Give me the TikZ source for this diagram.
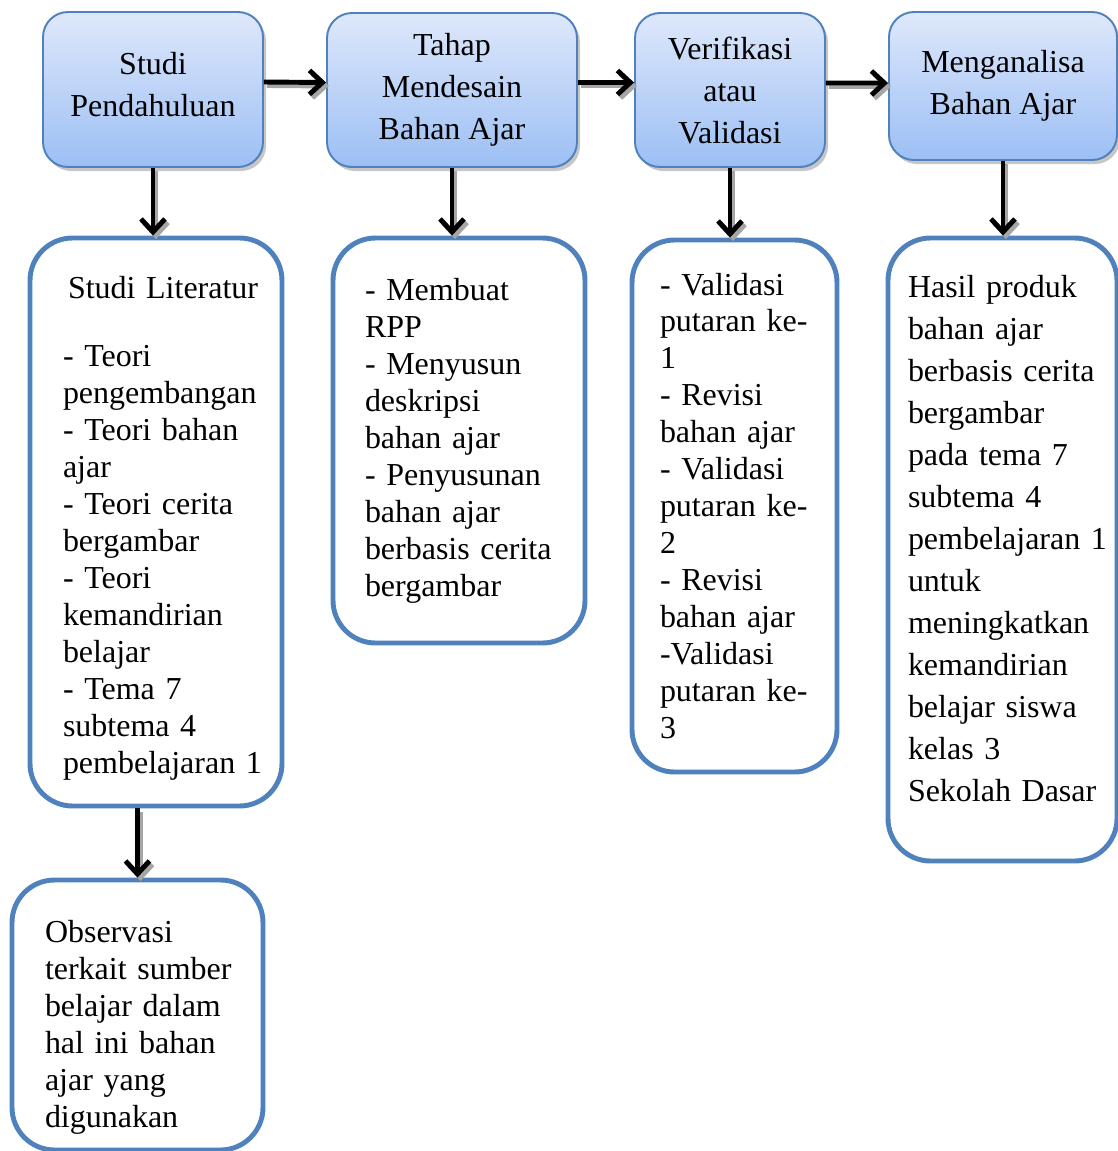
\documentclass[tikz,border=0pt]{standalone}
\usepackage{fontspec}
\setmainfont{Liberation Serif}
\usetikzlibrary{arrows.meta,shadows}
\hyphenpenalty=10000
\exhyphenpenalty=10000

\definecolor{framecol}{HTML}{4F81BD}
\definecolor{topcol}{HTML}{DEE8FB}
\definecolor{botcol}{HTML}{9CBFF4}

\begin{document}
\begin{tikzpicture}[>={Straight Barb[length=2.6mm,width=4.8mm]},
  stage/.style={rounded corners=0.5cm,draw=framecol,line width=1.1pt,top color=topcol,bottom color=botcol,align=center,font=\fontsize{18.2}{23.9}\selectfont,drop shadow={shadow xshift=0.6mm,shadow yshift=-0.8mm,opacity=0.45}},
  detail/.style={rounded corners=0.85cm,draw=framecol,line width=2.8pt,fill=white,align=left,font=\fontsize{18.2}{21.05}\selectfont},
  flow/.style={->,line width=2.8pt},
  flow shadow/.style={flow,draw=black!35,transform canvas={shift={(0.6mm,-0.7mm)}}}]

\useasboundingbox (0,0) rectangle (22.36,-23.02);

% tahap utama
\node[stage,minimum width=4.4cm,minimum height=3.1cm] (s1) at (3.06,-1.79) {Studi\\Pendahuluan\rule[-0.2cm]{0pt}{0.2cm}};
\node[stage,minimum width=5cm,minimum height=3.08cm] (s2) at (9.04,-1.8) {Tahap\\Mendesain\\Bahan Ajar};
\node[stage,minimum width=3.8cm,minimum height=3.08cm] (s3) at (14.6,-1.8) {Verifikasi\\atau\\Validasi};
\node[stage,minimum width=4.56cm,minimum height=2.96cm] (s4) at (20.06,-1.72) {Menganalisa\\Bahan Ajar};

% rincian
\node[detail,text width=3.72cm,inner xsep=0.66cm,minimum height=11.36cm] (lit) at (3.12,-10.44)
  {\rule{0pt}{0.68cm}\hspace*{0.1cm}Studi~Literatur\\[0.62cm]-~Teori\\pengembangan\\-~Teori~bahan\\ajar\\-~Teori~cerita\\bergambar\\-~Teori\\kemandirian\\belajar\\-~Tema~7\\subtema~4\\pembelajaran~1};
\node[detail,text width=3.76cm,inner xsep=0.64cm,minimum height=8.1cm] (rpp) at (9.18,-8.81)
  {-~Membuat\\RPP\\-~Menyusun\\deskripsi\\bahan~ajar\\-~Penyusunan\\bahan~ajar\\berbasis~cerita\\bergambar};
\node[detail,text width=2.98cm,inner xsep=0.56cm,minimum height=10.64cm] (val) at (14.69,-10.12)
  {-~Validasi\\putaran~ke-\\1\\-~Revisi\\bahan~ajar\\-~Validasi\\putaran~ke-\\2\\-~Revisi\\bahan~ajar\\-Validasi\\putaran~ke-\\3};
\node[detail,text width=3.78cm,inner xsep=0.4cm,minimum height=12.46cm,font=\fontsize{18.2}{23.9}\selectfont] (hasil) at (20.05,-10.99)
  {Hasil~produk\\bahan~ajar\\berbasis~cerita\\bergambar\\pada~tema~7\\subtema~4\\pembelajaran~1\\untuk\\meningkatkan\\kemandirian\\belajar~siswa\\kelas~3\\Sekolah~Dasar\rule[-0.44cm]{0pt}{0.44cm}};
\node[detail,text width=3.7cm,inner xsep=0.66cm,minimum height=5.4cm] (obs) at (2.75,-20.3)
  {\rule{0pt}{0.94cm}Observasi\\terkait~sumber\\belajar~dalam\\hal~ini~bahan\\ajar~yang\\digunakan};

% panah
\foreach \sty in {flow shadow,flow}{
  \draw[\sty] ([yshift=1.5mm]s1.east) -- ([yshift=1.5mm]s2.west);
  \draw[\sty] ([yshift=1.5mm]s2.east) -- ([yshift=1.5mm]s3.west);
  \draw[\sty] ([yshift=1.4mm]s3.east) -- ([yshift=0.6mm]s4.west);
  \draw[\sty] (s1.south) -- (s1.south |- lit.north);
  \draw[\sty] (s2.south) -- (s2.south |- rpp.north);
  \draw[\sty] (s3.south) -- (s3.south |- val.north);
  \draw[\sty] (s4.south) -- (s4.south |- hasil.north);
  \draw[\sty] (obs.north |- lit.south) -- (obs.north);
}
\end{tikzpicture}
\end{document}
